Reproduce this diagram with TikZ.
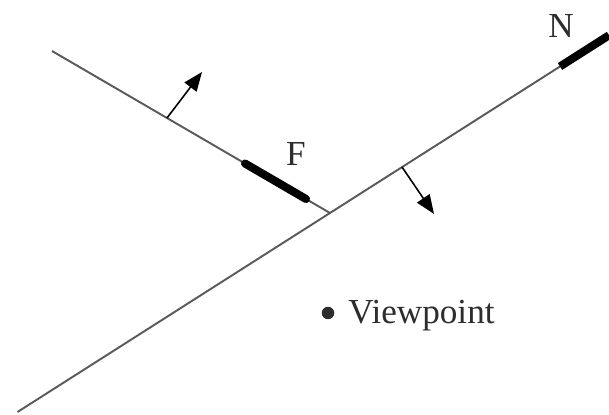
\documentclass[tikz,border=0pt]{standalone}
\usepackage{fontspec}
\setmainfont{Liberation Serif}
\usepackage{xcolor}
\usetikzlibrary{arrows.meta, positioning}
\definecolor{linegray}{RGB}{90,90,90}
\definecolor{textgray}{RGB}{45,45,45}

\begin{document}
\begin{tikzpicture}[x=0.02cm, y=-0.02cm,
    plane/.style={linegray, line width=1.1pt},
    slab/.style={black, line width=4.6pt, line cap=round},
    normal/.style={-{Triangle[length=0.38cm, width=0.3cm]}, black, line width=0.9pt},
    lbl/.style={textgray, font=\fontsize{20}{24}\selectfont, inner sep=0pt}]
  \useasboundingbox (0,0) rectangle (609,415);

  % the two planes
  \coordinate (far0)  at (52,51);
  \coordinate (junc)  at (330,213);
  \coordinate (near0) at (17.5,412);
  \coordinate (near1) at (609,35.3);
  \draw[plane] (far0) -- (junc);
  \draw[plane] (near0) -- (near1);

  % thick pieces with labels
  \coordinate (fa) at (245,163.5);
  \coordinate (fb) at (306,199);
  \draw[slab] (fa) -- (fb);
  \node[lbl] (flbl) at (296,154) {F};
  \coordinate (na) at (560,66.5);
  \draw[slab, line cap=butt] (na) -- (near1);
  \node[lbl] (nlbl) at (561,26) {N};

  % normals
  \coordinate (n1a) at (167,118);
  \coordinate (n1b) at (202,72);
  \draw[normal] (n1a) -- (n1b);
  \coordinate (n2a) at (402,167);
  \coordinate (n2b) at (434,214);
  \draw[normal] (n2a) -- (n2b);

  % viewpoint
  \node[circle, fill=textgray, minimum size=0.25cm, inner sep=0pt] (eye) at (328,313) {};
  \node[lbl, anchor=base west] (vlbl) at (348,324) {Viewpoint};
\end{tikzpicture}
\end{document}
